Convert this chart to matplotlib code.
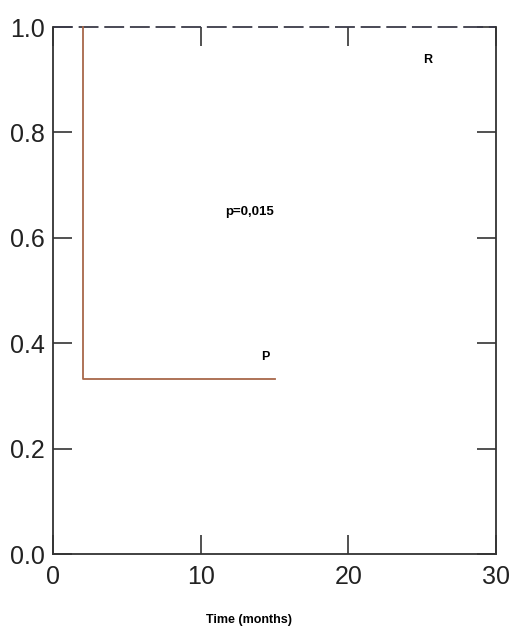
import matplotlib
matplotlib.use("Agg")
import matplotlib.pyplot as plt

# Kaplan-Meier style curves
r_time = [0, 30]
r_surv = [1.0, 1.0]

p_time = [2, 2, 15]
p_surv = [1.0, 0.333, 0.333]

x_ticks = [0, 10, 20, 30]
y_ticks = [0.0, 0.2, 0.4, 0.6, 0.8, 1.0]

plt.rcParams["font.family"] = ["Liberation Sans", "DejaVu Sans"]

fig = plt.figure(figsize=(5.14, 6.43), dpi=100)
ax = fig.add_axes([0.1031, 0.1384, 0.8619, 0.8196])

ax.plot(r_time, r_surv, color="#3a3a48", linestyle=(0, (11, 3.2)), linewidth=1.3, clip_on=False)
ax.plot(p_time, p_surv, color="#a8684a", linewidth=1.3, clip_on=False)

ax.set_xlim(0, 30)
ax.set_ylim(0, 1)
ax.set_xticks(x_ticks)
ax.set_yticks(y_ticks)
ax.set_yticklabels([f"{v:.1f}" for v in y_ticks])

ax.spines["top"].set_visible(False)
for side in ["left", "right", "bottom"]:
    ax.spines[side].set_color("#333333")
    ax.spines[side].set_linewidth(1.3)

ax.tick_params(direction="in", length=14, width=1.2, color="#333333",
               labelsize=18, labelcolor="#222222",
               top=True, right=True)
ax.tick_params(axis="x", pad=8)
ax.tick_params(axis="y", pad=6)

ax.text(25.4, 0.937, "R", fontsize=9, fontweight="bold", ha="center", va="center")
ax.text(14.4, 0.374, "P", fontsize=9, fontweight="bold", ha="center", va="center")
ax.text(13.3, 0.649, "p=0,015", fontsize=9.5, fontweight="bold", ha="center", va="center")

fig.text(249 / 514, 1 - 620 / 643, "Time (months)", fontsize=9, fontweight="bold",
         ha="center", va="center")

fig.savefig("out.png", dpi=100)
